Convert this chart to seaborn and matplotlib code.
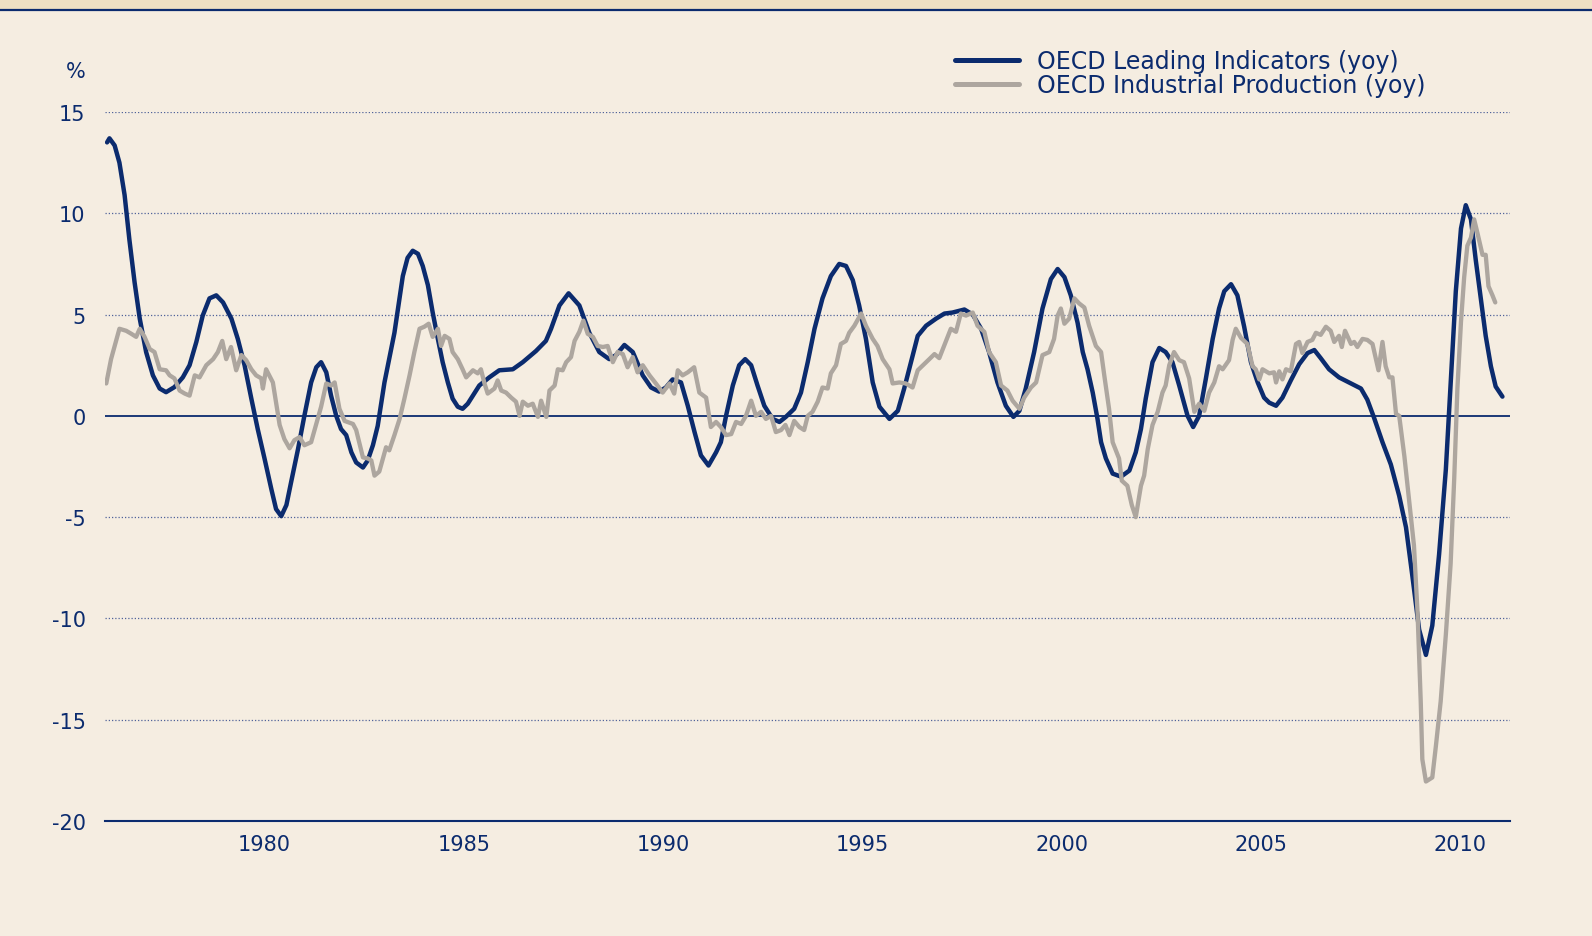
import matplotlib

matplotlib.use("Agg")

import matplotlib.pyplot as plt
import pandas as pd
import seaborn as sns
from matplotlib.patches import Rectangle
from matplotlib.lines import Line2D


NAVY = "#0B2B6E"
GREY = "#ADA69F"
BG = "#F5EDE1"
BAND = "#EEE0C3"
GRID = "#51639A"

LEI_LABEL = "OECD Leading Indicators (yoy)"
IP_LABEL = "OECD Industrial Production (yoy)"

Y_TICKS = [-20, -15, -10, -5, 0, 5, 10, 15]
X_MAJOR = [1980, 1985, 1990, 1995, 2000, 2005, 2010]

# OECD leading indicators, yoy %
lei_year = [
    1976.05, 1976.11, 1976.24, 1976.36, 1976.49, 1976.61, 1976.74, 1976.87,
    1977.03, 1977.2, 1977.37, 1977.53, 1977.74, 1977.95, 1978.12, 1978.29,
    1978.45, 1978.62, 1978.79, 1978.96, 1979.17, 1979.33, 1979.5, 1979.67,
    1979.83, 1980.0, 1980.17, 1980.29, 1980.42, 1980.55, 1980.67, 1980.84,
    1981.0, 1981.17, 1981.3, 1981.42, 1981.55, 1981.67, 1981.8, 1981.92,
    1982.05, 1982.18, 1982.3, 1982.47, 1982.59, 1982.72, 1982.84, 1983.01,
    1983.26, 1983.47, 1983.59, 1983.72, 1983.85, 1983.97, 1984.1, 1984.22,
    1984.35, 1984.47, 1984.6, 1984.72, 1984.85, 1984.97, 1985.1, 1985.23,
    1985.39, 1985.64, 1985.89, 1986.23, 1986.48, 1986.81, 1987.06, 1987.19,
    1987.4, 1987.63, 1987.9, 1988.15, 1988.4, 1988.65, 1988.82, 1989.03,
    1989.24, 1989.49, 1989.7, 1989.9, 1990.07, 1990.24, 1990.45, 1990.62,
    1990.79, 1990.95, 1991.14, 1991.33, 1991.45, 1991.58, 1991.75, 1991.91,
    1992.06, 1992.21, 1992.37, 1992.54, 1992.75, 1992.92, 1993.08, 1993.29,
    1993.46, 1993.63, 1993.8, 1994.0, 1994.21, 1994.42, 1994.59, 1994.76,
    1994.92, 1995.09, 1995.26, 1995.43, 1995.68, 1995.89, 1996.05, 1996.22,
    1996.39, 1996.6, 1996.85, 1997.06, 1997.26, 1997.56, 1997.77, 1997.98,
    1998.18, 1998.39, 1998.6, 1998.79, 1998.94, 1999.1, 1999.31, 1999.52,
    1999.73, 1999.9, 2000.07, 2000.23, 2000.4, 2000.53, 2000.65, 2000.78,
    2000.9, 2000.99, 2001.11, 2001.28, 2001.49, 2001.7, 2001.86, 2001.99,
    2002.11, 2002.28, 2002.45, 2002.61, 2002.78, 2002.95, 2003.16, 2003.3,
    2003.45, 2003.62, 2003.79, 2003.95, 2004.08, 2004.25, 2004.41, 2004.58,
    2004.75, 2004.92, 2005.08, 2005.21, 2005.38, 2005.54, 2005.75, 2005.96,
    2006.17, 2006.34, 2006.5, 2006.71, 2006.96, 2007.26, 2007.51, 2007.67,
    2007.84, 2008.05, 2008.26, 2008.47, 2008.64, 2008.8, 2008.97, 2009.14,
    2009.3, 2009.47, 2009.64, 2009.81, 2009.89, 2010.02, 2010.14, 2010.27,
    2010.39, 2010.52, 2010.64, 2010.77, 2010.89, 2011.06,
]
lei_value = [
    13.5, 13.7, 13.35, 12.5, 10.9, 8.7, 6.6, 4.8,
    3.15, 2.0, 1.35, 1.17, 1.42, 1.9, 2.5, 3.65,
    4.95, 5.8, 5.95, 5.6, 4.8, 3.8, 2.5, 0.85,
    -0.65, -2.1, -3.6, -4.6, -4.95, -4.4, -3.25, -1.65,
    0.0, 1.65, 2.4, 2.65, 2.15, 1.0, 0.0, -0.65,
    -0.95, -1.8, -2.3, -2.55, -2.2, -1.45, -0.5, 1.65,
    4.1, 6.9, 7.8, 8.15, 8.0, 7.4, 6.45, 5.1,
    3.8, 2.65, 1.65, 0.85, 0.45, 0.35, 0.6, 1.0,
    1.5, 1.9, 2.25, 2.3, 2.65, 3.2, 3.7, 4.3,
    5.45, 6.05, 5.45, 4.1, 3.15, 2.8, 3.0, 3.5,
    3.15, 2.0, 1.4, 1.2, 1.4, 1.8, 1.65, 0.5,
    -0.8, -1.95, -2.45, -1.8, -1.3, 0.0, 1.5, 2.5,
    2.8, 2.5, 1.5, 0.5, -0.15, -0.3, -0.05, 0.35,
    1.15, 2.65, 4.3, 5.8, 6.9, 7.5, 7.4, 6.7,
    5.45, 3.8, 1.65, 0.45, -0.15, 0.25, 1.35, 2.65,
    3.95, 4.45, 4.8, 5.05, 5.1, 5.25, 5.0, 4.3,
    3.15, 1.65, 0.5, -0.05, 0.25, 1.35, 3.15, 5.3,
    6.75, 7.25, 6.85, 5.95, 4.6, 3.15, 2.3, 1.15,
    -0.15, -1.3, -2.1, -2.85, -3.0, -2.7, -1.8, -0.65,
    0.85, 2.65, 3.35, 3.15, 2.65, 1.5, 0.0, -0.55,
    0.0, 1.85, 3.8, 5.3, 6.15, 6.5, 5.95, 4.4,
    2.65, 1.65, 0.9, 0.65, 0.5, 0.9, 1.75, 2.55,
    3.1, 3.25, 2.85, 2.3, 1.9, 1.6, 1.35, 0.8,
    -0.1, -1.3, -2.4, -3.95, -5.5, -7.9, -10.55, -11.8,
    -10.35, -6.85, -2.65, 3.3, 6.15, 9.25, 10.4, 9.7,
    7.7, 5.75, 3.95, 2.45, 1.45, 0.95,
]

# OECD industrial production, yoy %
ip_year = [
    1976.03, 1976.15, 1976.24, 1976.36, 1976.53, 1976.66, 1976.78, 1976.87,
    1976.99, 1977.12, 1977.24, 1977.37, 1977.53, 1977.62, 1977.74, 1977.87,
    1978.0, 1978.12, 1978.25, 1978.37, 1978.54, 1978.71, 1978.83, 1978.94,
    1979.04, 1979.16, 1979.29, 1979.42, 1979.54, 1979.67, 1979.79, 1979.92,
    1979.96, 1980.04, 1980.21, 1980.38, 1980.5, 1980.63, 1980.75, 1980.88,
    1981.0, 1981.17, 1981.3, 1981.42, 1981.55, 1981.67, 1981.76, 1981.88,
    1982.01, 1982.22, 1982.3, 1982.47, 1982.59, 1982.68, 1982.76, 1982.88,
    1983.05, 1983.13, 1983.26, 1983.39, 1983.51, 1983.64, 1983.76, 1983.89,
    1984.01, 1984.12, 1984.22, 1984.35, 1984.43, 1984.52, 1984.64, 1984.72,
    1984.85, 1984.97, 1985.06, 1985.23, 1985.35, 1985.43, 1985.52, 1985.6,
    1985.77, 1985.85, 1985.94, 1986.06, 1986.19, 1986.31, 1986.4, 1986.48,
    1986.61, 1986.73, 1986.86, 1986.94, 1987.07, 1987.15, 1987.28, 1987.36,
    1987.48, 1987.57, 1987.69, 1987.78, 1987.9, 1988.0, 1988.11, 1988.24,
    1988.36, 1988.49, 1988.61, 1988.74, 1988.86, 1988.99, 1989.11, 1989.24,
    1989.36, 1989.49, 1989.66, 1989.82, 1989.99, 1990.16, 1990.28, 1990.37,
    1990.49, 1990.62, 1990.78, 1990.91, 1991.08, 1991.2, 1991.33, 1991.45,
    1991.58, 1991.71, 1991.83, 1991.96, 1992.08, 1992.21, 1992.33, 1992.46,
    1992.58, 1992.71, 1992.83, 1992.96, 1993.07, 1993.17, 1993.29, 1993.42,
    1993.54, 1993.63, 1993.75, 1993.88, 1994.0, 1994.13, 1994.21, 1994.34,
    1994.46, 1994.59, 1994.67, 1994.8, 1994.97, 1995.09, 1995.26, 1995.38,
    1995.51, 1995.68, 1995.76, 1995.93, 1996.09, 1996.26, 1996.39, 1996.55,
    1996.68, 1996.81, 1996.93, 1997.06, 1997.22, 1997.35, 1997.47, 1997.6,
    1997.77, 1997.89, 1998.06, 1998.18, 1998.35, 1998.48, 1998.64, 1998.77,
    1998.94, 1999.06, 1999.23, 1999.36, 1999.52, 1999.69, 1999.81, 1999.9,
    1999.98, 2000.07, 2000.19, 2000.32, 2000.44, 2000.57, 2000.69, 2000.86,
    2000.99, 2001.07, 2001.19, 2001.28, 2001.44, 2001.51, 2001.65, 2001.76,
    2001.86, 2001.99, 2002.07, 2002.16, 2002.28, 2002.41, 2002.53, 2002.61,
    2002.7, 2002.82, 2002.95, 2003.07, 2003.2, 2003.33, 2003.45, 2003.58,
    2003.7, 2003.83, 2003.95, 2004.04, 2004.2, 2004.29, 2004.37, 2004.5,
    2004.66, 2004.79, 2004.87, 2004.96, 2005.04, 2005.21, 2005.33, 2005.38,
    2005.46, 2005.54, 2005.63, 2005.75, 2005.88, 2005.96, 2006.04, 2006.17,
    2006.29, 2006.38, 2006.5, 2006.63, 2006.75, 2006.84, 2006.96, 2007.03,
    2007.11, 2007.26, 2007.34, 2007.42, 2007.55, 2007.67, 2007.8, 2007.88,
    2007.95, 2008.05, 2008.13, 2008.22, 2008.3, 2008.39, 2008.47, 2008.6,
    2008.72, 2008.84, 2008.93, 2009.01, 2009.05, 2009.14, 2009.3, 2009.39,
    2009.51, 2009.64, 2009.76, 2009.85, 2009.93, 2010.02, 2010.1, 2010.18,
    2010.27, 2010.35, 2010.43, 2010.56, 2010.64, 2010.71, 2010.81, 2010.88,
]
ip_value = [
    1.6, 2.8, 3.45, 4.3, 4.2, 4.05, 3.9, 4.3,
    3.9, 3.3, 3.15, 2.3, 2.25, 2.0, 1.85, 1.25,
    1.1, 1.0, 2.0, 1.9, 2.5, 2.8, 3.15, 3.7,
    2.8, 3.4, 2.25, 3.0, 2.75, 2.3, 2.0, 1.85,
    1.35, 2.3, 1.65, -0.45, -1.15, -1.6, -1.2, -1.05,
    -1.45, -1.3, -0.4, 0.45, 1.6, 1.5, 1.65, 0.35,
    -0.25, -0.4, -0.7, -2.05, -2.1, -2.2, -2.95, -2.75,
    -1.55, -1.7, -0.95, -0.15, 0.85, 2.0, 3.15, 4.3,
    4.4, 4.55, 3.9, 4.3, 3.45, 3.95, 3.8, 3.15,
    2.8, 2.3, 1.9, 2.25, 2.1, 2.3, 1.6, 1.1,
    1.35, 1.75, 1.25, 1.15, 0.9, 0.7, 0.0, 0.7,
    0.5, 0.6, -0.05, 0.75, -0.05, 1.25, 1.5, 2.3,
    2.25, 2.65, 2.9, 3.7, 4.15, 4.7, 4.05, 3.9,
    3.45, 3.4, 3.45, 2.65, 3.15, 3.05, 2.4, 2.9,
    2.15, 2.5, 2.0, 1.6, 1.15, 1.6, 1.1, 2.25,
    2.0, 2.15, 2.4, 1.15, 0.9, -0.55, -0.3, -0.55,
    -0.95, -0.9, -0.3, -0.4, 0.0, 0.75, 0.0, 0.2,
    -0.15, 0.0, -0.8, -0.7, -0.45, -0.95, -0.25, -0.55,
    -0.7, 0.0, 0.2, 0.7, 1.4, 1.35, 2.1, 2.5,
    3.55, 3.7, 4.1, 4.45, 5.05, 4.45, 3.8, 3.45,
    2.8, 2.3, 1.6, 1.65, 1.6, 1.4, 2.25, 2.55,
    2.8, 3.05, 2.85, 3.5, 4.3, 4.15, 5.05, 4.95,
    5.1, 4.45, 4.15, 3.15, 2.65, 1.5, 1.25, 0.75,
    0.35, 0.9, 1.4, 1.65, 3.0, 3.15, 3.8, 4.95,
    5.3, 4.55, 4.8, 5.8, 5.55, 5.35, 4.45, 3.45,
    3.15, 2.0, 0.35, -1.3, -2.1, -3.2, -3.45, -4.4,
    -5.0, -3.45, -2.95, -1.65, -0.45, 0.2, 1.15, 1.5,
    2.5, 3.15, 2.75, 2.65, 1.85, 0.2, 0.6, 0.25,
    1.15, 1.65, 2.45, 2.3, 2.75, 3.75, 4.3, 3.85,
    3.55, 2.45, 2.3, 1.8, 2.3, 2.1, 2.15, 1.65,
    2.2, 1.8, 2.3, 2.2, 3.55, 3.65, 3.1, 3.65,
    3.75, 4.1, 4.0, 4.4, 4.2, 3.65, 3.95, 3.4,
    4.2, 3.55, 3.65, 3.4, 3.8, 3.75, 3.55, 2.85,
    2.25, 3.65, 2.45, 1.9, 1.9, 0.1, 0.0, -2.0,
    -4.2, -6.4, -9.7, -14.1, -16.95, -18.05, -17.85, -16.3,
    -14.1, -10.8, -7.3, -3.1, 1.35, 4.65, 6.85, 8.4,
    8.8, 9.7, 9.05, 7.95, 7.95, 6.4, 5.95, 5.6,
]


def main() -> None:
    sns.set_theme(style="white")
    plt.rcParams["font.family"] = ["DejaVu Sans"]

    lei_df = pd.DataFrame({"year": lei_year, "value": lei_value})
    ip_df = pd.DataFrame({"year": ip_year, "value": ip_value})

    fig = plt.figure(figsize=(15.92, 9.37), dpi=100)
    fig.patch.set_facecolor(BG)

    # bandeau du haut + filet bleu
    fig.add_artist(Rectangle((0, 1 - 10 / 937), 1, 10 / 937,
                             transform=fig.transFigure, color=BAND, lw=0))
    fig.add_artist(Line2D([0, 1], [1 - 11 / 937, 1 - 11 / 937],
                          transform=fig.transFigure, color=NAVY, lw=1.6))

    ax = fig.add_axes([0.066, 0.1227, 0.8825, 0.7567])
    ax.set_facecolor(BG)

    for y in Y_TICKS:
        if y in (0, -20):
            continue
        ax.axhline(y, color=GRID, lw=0.9, ls=(0, (1, 1.6)), zorder=1)
    ax.axhline(0, color=NAVY, lw=1.3, zorder=1)

    sns.lineplot(data=lei_df, x="year", y="value", color=NAVY, lw=3.2,
                 sort=False, estimator=None, ax=ax, label=LEI_LABEL, zorder=3)
    sns.lineplot(data=ip_df, x="year", y="value", color=GREY, lw=3.1,
                 sort=False, estimator=None, ax=ax, label=IP_LABEL, zorder=4)
    for line in ax.get_lines():
        line.set_solid_joinstyle("round")
        line.set_solid_capstyle("round")

    ax.set_xlim(1976, 2011.25)
    ax.set_ylim(-20, 15)
    ax.set_xlabel("")
    ax.set_ylabel("")

    for side in ("top", "right", "left"):
        ax.spines[side].set_visible(False)
    ax.spines["bottom"].set_color(NAVY)
    ax.spines["bottom"].set_linewidth(1.5)

    ax.set_xticks(X_MAJOR)
    ax.set_xticklabels([str(x) for x in X_MAJOR])
    ax.set_xticks(list(range(1976, 2012)), minor=True)
    ax.tick_params(axis="x", which="major", length=6, width=1.1, color=NAVY,
                   labelcolor=NAVY, labelsize=15, pad=3, direction="out")
    ax.tick_params(axis="x", which="minor", length=3.5, width=1.1, color=NAVY,
                   direction="out")

    ax.set_yticks(Y_TICKS)
    ax.set_yticklabels([str(v) for v in Y_TICKS])
    ax.tick_params(axis="y", length=0, labelcolor=NAVY, labelsize=15, pad=14)

    fig.text(76 / 1592, 1 - 72 / 937, "%", color=NAVY, fontsize=15,
             ha="center", va="center")

    leg = ax.legend(loc="center left", bbox_to_anchor=(955 / 1592, 1 - 74.5 / 937),
                    bbox_transform=fig.transFigure, frameon=False, fontsize=17,
                    handlelength=2.7, handletextpad=0.76, borderpad=0,
                    borderaxespad=0, labelspacing=0.0)
    for text in leg.get_texts():
        text.set_color(NAVY)
    for handle in leg.get_lines():
        handle.set_linewidth(3.6)

    fig.savefig("out.png", dpi=100, facecolor=fig.get_facecolor())
    plt.close(fig)


if __name__ == "__main__":
    main()
